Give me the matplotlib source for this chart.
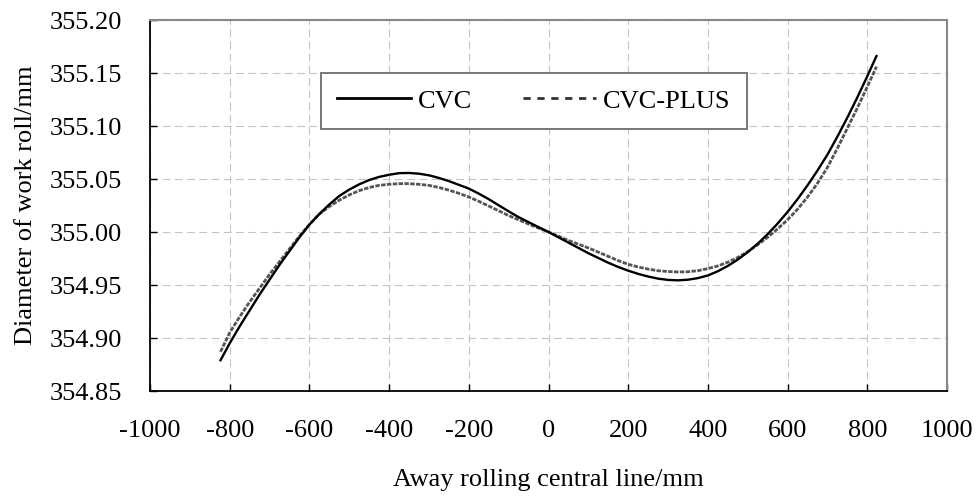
import matplotlib
matplotlib.use('Agg')
import matplotlib.pyplot as plt
from matplotlib.lines import Line2D

# Distance from rolling centre line (mm).
pos = [-823, -800, -775, -750, -725, -700, -675, -650, -625, -600, -575,
       -550, -525, -500, -475, -450, -425, -400, -375, -350, -325, -300,
       -275, -250, -225, -200, -175, -150, -125, -100, -75, -50, -25, 0,
       25, 50, 75, 100, 125, 150, 175, 200, 225, 250, 275, 300, 325, 350,
       375, 400, 425, 450, 475, 500, 525, 550, 575, 600, 625, 650, 675,
       700, 725, 750, 775, 800, 823]

# Work roll diameter (mm).
cvc = [354.879, 354.895, 354.911, 354.926, 354.941, 354.955, 354.969,
       354.982, 354.995, 355.007, 355.017, 355.026, 355.034, 355.040,
       355.045, 355.049, 355.052, 355.054, 355.0555, 355.0557, 355.055,
       355.0535, 355.051, 355.048, 355.0445, 355.041, 355.0362, 355.031,
       355.0252, 355.0195, 355.014, 355.0093, 355.0046, 355.000, 354.995,
       354.990, 354.985, 354.980, 354.9755, 354.971, 354.967, 354.9635,
       354.9605, 354.958, 354.956, 354.9548, 354.9544, 354.955, 354.9565,
       354.959, 354.963, 354.968, 354.974, 354.981, 354.989, 354.998,
       355.008, 355.019, 355.031, 355.044, 355.058, 355.073, 355.090,
       355.108, 355.127, 355.147, 355.166]

cvc_plus = [354.887, 354.905, 354.920, 354.934, 354.947, 354.960, 354.972,
            354.984, 354.996, 355.007, 355.017, 355.024, 355.030, 355.035,
            355.039, 355.042, 355.044, 355.045, 355.0456, 355.0456, 355.045,
            355.044, 355.042, 355.0395, 355.0365, 355.033, 355.029,
            355.0245, 355.020, 355.0155, 355.0115, 355.0075, 355.0037,
            355.000, 354.996, 354.992, 354.9885, 354.985, 354.981, 354.977,
            354.973, 354.9695, 354.967, 354.965, 354.9635, 354.9627,
            354.9623, 354.9625, 354.9635, 354.9655, 354.968, 354.9715,
            354.976, 354.9815, 354.988, 354.995, 355.003, 355.0115,
            355.0215, 355.033, 355.046, 355.061, 355.079, 355.098, 355.117,
            355.137, 355.156]

xticks = [-1000, -800, -600, -400, -200, 0, 200, 400, 600, 800, 1000]
yticks = [354.85, 354.90, 354.95, 355.00, 355.05, 355.10, 355.15, 355.20]

plt.rcParams['font.family'] = ['Liberation Serif', 'DejaVu Serif']
fs = 19

fig = plt.figure(figsize=(9.79, 4.98), dpi=100)
ax = fig.add_axes([150 / 979, 107 / 498, 797 / 979, 371 / 498])

ax.plot(pos, cvc_plus, color='#555555', lw=2.0, dashes=(1.6, 0.5), zorder=3)
ax.plot(pos, cvc, color='black', lw=1.7, zorder=4)

ax.set_xlim(-1000, 1000)
ax.set_ylim(354.85, 355.20)
ax.set_xticks(xticks)
ax.set_yticks(yticks)
ax.set_xticklabels([str(t) for t in xticks])
ax.set_yticklabels(['%.2f' % t for t in yticks])

ax.grid(True, color='#c4c4c4', lw=0.8, dashes=(7, 4))
ax.set_axisbelow(True)

ax.tick_params(direction='in', length=5, width=1, labelsize=fs, color='black')
ax.tick_params(axis='y', pad=20)
ax.tick_params(axis='x', pad=21)

for side in ['left', 'bottom']:
    ax.spines[side].set_color('black')
    ax.spines[side].set_linewidth(1.3)
for side in ['top', 'right']:
    ax.spines[side].set_color('#888888')
    ax.spines[side].set_linewidth(1.5)

ax.set_xlabel('Away rolling central line/mm', fontsize=fs)
ax.set_ylabel('Diameter of work roll/mm', fontsize=fs)
ax.xaxis.set_label_coords(0.5, -0.21)
ax.yaxis.set_label_coords(-0.142, 0.5)

# Legend with proxy handles so the dashes read like the original.
h1 = Line2D([], [], color='black', lw=2)
h2 = Line2D([], [], color='#333333', lw=2, dashes=(2.6, 2.4))
leg = ax.legend([h1, h2], ['CVC', 'CVC-PLUS'], ncol=2, loc='center',
                bbox_to_anchor=(0.2146, 0.7035, 0.5344, 0.1565),
                mode='expand', borderaxespad=0, fontsize=fs,
                handlelength=2.8, handletextpad=0.25, borderpad=0.62,
                fancybox=False, framealpha=1)
leg.get_frame().set_edgecolor('#777777')
leg.get_frame().set_linewidth(1.4)

fig.savefig('out.png', dpi=100)
